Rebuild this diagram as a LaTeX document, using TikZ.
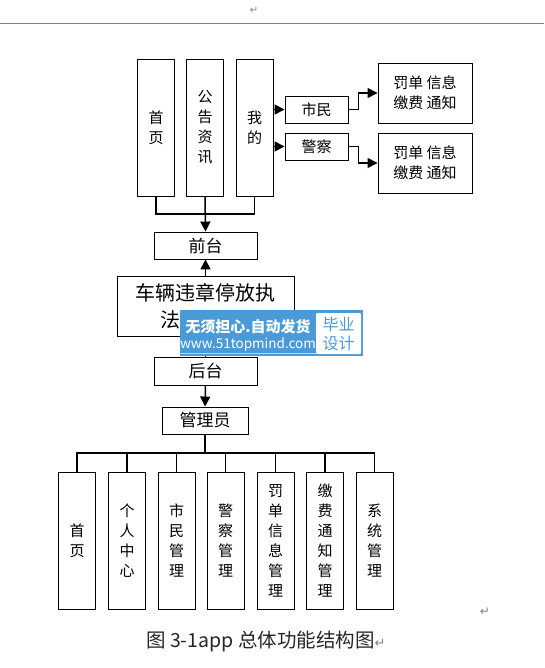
\documentclass[tikz,border=0pt]{standalone}
\usepackage{fontspec}
\setmainfont{Noto Sans CJK SC}
\newfontfamily\symfont{DejaVu Sans}
\usetikzlibrary{positioning, arrows.meta}
\definecolor{wmblue}{RGB}{74,154,216}
\def\zh#1{\fontsize{#1}{20}\selectfont}

\begin{document}
\begin{tikzpicture}[x=1pt, y=-1pt,
              every node/.style = {shape=rectangle, align=center,
                inner sep=0pt, font=\zh{15}},
              box/.style = {draw, line width=0.9pt},
              tall/.style = {box, minimum width=37pt, minimum height=137pt},
              flat/.style = {box, minimum width=63pt, minimum height=27pt},
              info/.style = {box, minimum width=94pt, minimum height=60pt},
              bar/.style = {box, minimum width=103pt, minimum height=27pt, font=\zh{17}},
              link/.style = {line width=1.5pt},
              arr/.style = {link, -{Triangle[length=10pt,width=10pt]}}]
  \useasboundingbox (0,0) rectangle (544,668);

  % page marks
  \draw[gray, line width=1pt] (0,24) -- (544,24);
  \node[text=gray, font=\symfont\fontsize{10}{12}\selectfont] (markA) at (254,10) {↵};
  \node[text=gray, font=\symfont\fontsize{12}{14}\selectfont] (markB) at (485,612) {↵};

  % front end
  \node[tall] (shouye) at (156,127.5) {首\\页};
  \node[tall] (gonggao) at (205,127.5) {公\\告\\资\\讯};
  \node[tall] (wode) at (254.5,127.5) {我\\的};
  \node[flat] (shimin) at (316.5,109.5) {市民};
  \node[flat] (jingcha) at (316.5,146.5) {警察};
  \node[info] (fadanA) at (425,93) {罚单 信息\\缴费 通知};
  \node[info] (fadanB) at (425,163) {罚单 信息\\缴费 通知};
  \node[bar] (qiantai) at (205.5,245.5) {前台};

  \node[box, minimum width=177pt, minimum height=60pt,
        font=\fontsize{20}{27}\selectfont] (xitong) at (205.5,306)
        {车辆违章停放执\\法系统\rule{30pt}{0pt}};

  % back end
  \node[bar, minimum height=28pt] (houtai) at (205.5,371) {后台};
  \node[bar, minimum width=86pt] (guanli) at (205,420.5) {管理员};
  \foreach \n/\x/\t in {m1/77/首\\页, m2/127/个\\人\\中\\心,
      m3/176.5/市\\民\\管\\理, m4/225.5/警\\察\\管\\理,
      m5/275.5/罚\\单\\信\\息\\管\\理, m6/325/缴\\费\\通\\知\\管\\理,
      m7/374.5/系\\统\\管\\理}
    \node[tall] (\n) at (\x,540.5) {\t};

  % connectors
  \coordinate (topbus) at (205,214);
  \draw[link] (shouye.south) |- (topbus) -| (wode.south);
  \draw[arr] (gonggao.south) -- (qiantai.north);
  \draw[link] (wode.east |- shimin.west) -- (wode.east |- jingcha.west);
  \draw[arr] (wode.east |- shimin.west) -- (shimin.west);
  \draw[arr] (wode.east |- jingcha.west) -- (jingcha.west);
  \draw[arr] (shimin.east) -- ++(10,0) |- (fadanA.west);
  \draw[arr] (jingcha.east) -- ++(10,0) |- (fadanB.west);
  \draw[arr] (xitong.north) -- (qiantai.south);
  \draw[link] (xitong.south) -- (houtai.north);
  \draw[arr] (houtai.south) -- (guanli.north);
  \coordinate (botbus) at (205,453);
  \draw[link] (guanli.south) -- (botbus);
  \draw[link] (m1.north) |- (botbus) -| (m7.north);
  \foreach \n in {m2,m3,m4,m5,m6}
    \draw[line width=1.2pt] (\n.north) -- (\n.north |- botbus);

  % caption
  \node[anchor=west, text=black!85, font=\fontsize{19.5}{22}\selectfont] (caption) at (146,642)
    {图 3-1app 总体功能结构图{\symfont\color{gray}\fontsize{13}{14}\selectfont↵}};

  % overlay stamp
  \fill[wmblue] (180,310) rectangle (363,356);
  \fill[white, rounded corners=1pt] (316,313) rectangle (361,354);
  \node[text=white, font=\bfseries\fontsize{15}{18}\selectfont] (stampA) at (248,327) {无须担心.自动发货};
  \node[text=white, font=\fontsize{13.5}{16}\selectfont] (stampB) at (248,345) {www.51topmind.com};
  \draw[white!60!wmblue, line width=0.6pt] ([yshift=-1pt]stampB.south west) -- ([yshift=-1pt]stampB.south east);
  \node[text=wmblue, font=\fontsize{16}{19}\selectfont] (stampC) at (338.5,333.5) {毕业\\设计};
\end{tikzpicture}
\end{document}
